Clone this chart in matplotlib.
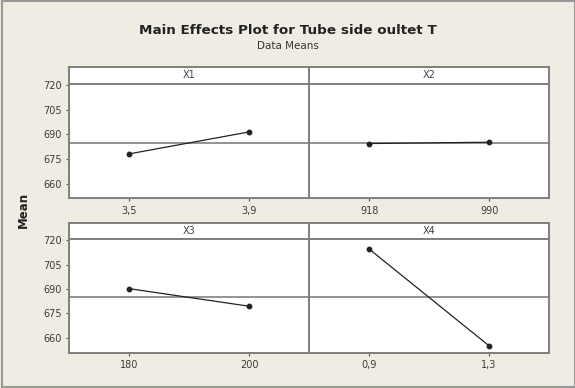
import matplotlib
matplotlib.use("Agg")
import matplotlib.pyplot as plt
from matplotlib.patches import Rectangle

# factor levels and data means
factors = ["X1", "X2", "X3", "X4"]
levels = [[3.5, 3.9], [918, 990], [180, 200], [0.9, 1.3]]
level_labels = [["3,5", "3,9"], ["918", "990"], ["180", "200"], ["0,9", "1,3"]]
means = [[678.1, 691.5], [684.4, 685.2], [690.2, 679.4], [714.5, 655.1]]
grand_mean = 684.8
yticks = [660, 675, 690, 705, 720]

W, H = 575, 388
bg = "#efece3"
edge = "#7f7f7f"

fig = plt.figure(figsize=(W / 100, H / 100), dpi=100, facecolor=bg)


def box(l, t, r, b):
    return [l / W, 1 - b / H, (r - l) / W, (b - t) / H]


# panel geometry in pixels (left, right) / (header top, data top, bottom)
cols = [(69.3, 309.3), (309.3, 549)]
rows = [(67, 84, 198.3), (223, 239, 352.5)]

for i, name in enumerate(factors):
    r, c = divmod(i, 2)
    l, rr = cols[c]
    ht, t, b = rows[r]

    # header strip
    hax = fig.add_axes(box(l, ht, rr, t))
    hax.set_facecolor("white")
    hax.set_xticks([])
    hax.set_yticks([])
    for s in hax.spines.values():
        s.set_color(edge)
        s.set_linewidth(1.4)
    hax.text(0.5, 0.5, name, ha="center", va="center", fontsize=7,
             color="#444444", transform=hax.transAxes)

    ax = fig.add_axes(box(l, t, rr, b))
    ax.set_facecolor("white")
    x = levels[i]
    d = x[1] - x[0]
    ax.set_xlim(x[0] - d / 2, x[1] + d / 2)
    ax.set_ylim(651, 720.7)
    ax.axhline(grand_mean, color="#8a8a8a", lw=1.3, zorder=1)
    ax.plot(x, means[i], color="#222222", lw=0.9, marker="o", ms=3.2,
            zorder=3)
    ax.set_xticks(x)
    ax.set_xticklabels(level_labels[i])
    if c == 0:
        ax.set_yticks(yticks)
    else:
        ax.set_yticks([])
    ax.tick_params(labelsize=7, labelcolor="#3a3a3a", color="#555555",
                   length=2.5, width=0.8, pad=3)
    for s in ax.spines.values():
        s.set_color(edge)
        s.set_linewidth(1.4)

fig.text(288 / W, 1 - 30 / H, "Main Effects Plot for Tube side oultet T",
         ha="center", va="center", fontsize=9.7, fontweight="bold",
         color="#222222")
fig.text(288 / W, 1 - 46 / H, "Data Means", ha="center", va="center",
         fontsize=7.5, color="#333333")
fig.text(23 / W, 1 - 210 / H, "Mean", ha="center", va="center",
         rotation=90, fontsize=8.5, fontweight="bold", color="#222222")

# outer frame of the window
fig.patches.append(Rectangle((2 / W, 1 / H), 1 - 2 / W, 1 - 2 / H,
                             transform=fig.transFigure, fill=False,
                             edgecolor="#999999", lw=1.5))

fig.savefig("out.png", dpi=100, facecolor=bg)
